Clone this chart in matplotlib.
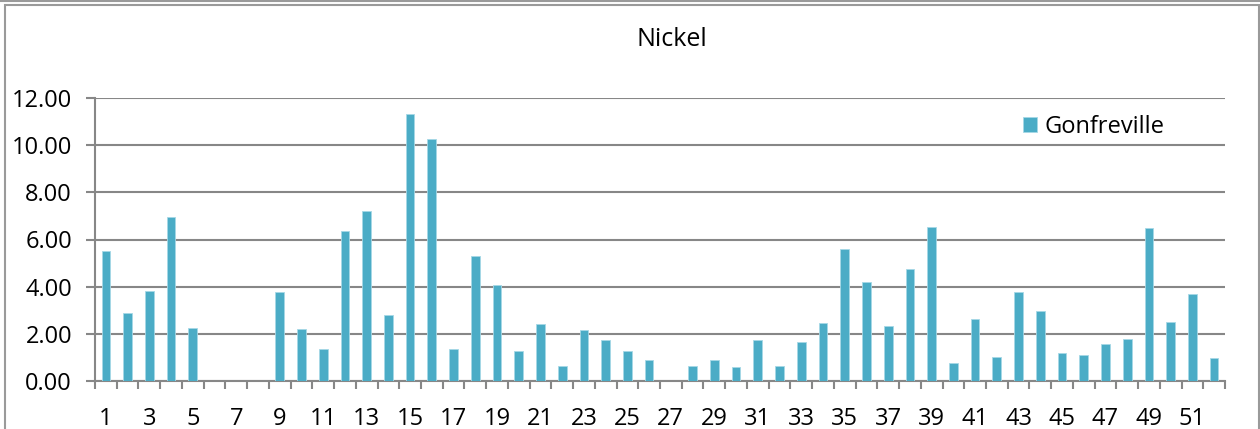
import matplotlib.pyplot as plt
import matplotlib.patches as patches
from matplotlib.ticker import FixedLocator, FormatStrFormatter

weeks = list(range(1, 53))
gonfreville = [
    5.51, 2.88, 3.82, 6.95, 2.25, 0, 0, 0, 3.77, 2.20,
    1.34, 6.36, 7.19, 2.80, 11.32, 10.25, 1.36, 5.29, 4.06, 1.27,
    2.42, 0.64, 2.16, 1.72, 1.29, 0.90, 0, 0.62, 0.90, 0.59,
    1.72, 0.64, 1.65, 2.45, 5.58, 4.18, 2.33, 4.75, 6.53, 0.75,
    2.63, 1.02, 3.76, 2.98, 1.17, 1.09, 1.58, 1.78, 6.47, 2.52,
    3.67, 0.96,
]
y_ticks = [0, 2, 4, 6, 8, 10, 12]

plt.rcParams["font.family"] = ["Open Sans", "DejaVu Sans"]
grey = "#878787"
bar_color = "#4BACC6"
fsize = 17

fig = plt.figure(figsize=(12.6, 4.29), dpi=100)
ax = fig.add_axes([95 / 1260, 1 - 381 / 429, 1130 / 1260, 283 / 429])

# chart border (Excel style)
fig.patches.append(patches.Rectangle((5 / 1260, -0.05), 1254 / 1260, 1 - 5 / 429 + 0.05,
                                     transform=fig.transFigure, fill=False,
                                     edgecolor="#9a9a9a", linewidth=1.5))
fig.add_artist(plt.Line2D([0, 1], [1 - 1 / 429, 1 - 1 / 429], transform=fig.transFigure,
                          color="#9a9a9a", linewidth=1.5))

pos = [w - 1 for w in weeks]
ax.bar(pos, gonfreville, width=0.4, color=bar_color, edgecolor="#a6d8e6",
       linewidth=0.6, label="Gonfreville", zorder=3)

ax.set_xlim(-0.5, 51.5)
ax.set_ylim(0, 12)
ax.yaxis.set_major_locator(FixedLocator(y_ticks))
ax.yaxis.set_major_formatter(FormatStrFormatter("%.2f"))
ax.grid(axis="y", color=grey, linewidth=1.5, zorder=0)

# category boundaries as major ticks, odd labels as minor ticks
ax.xaxis.set_major_locator(FixedLocator([i - 0.5 for i in range(53)]))
ax.xaxis.set_major_formatter(plt.NullFormatter())
ax.xaxis.set_minor_locator(FixedLocator([p for p in pos if p % 2 == 0]))
ax.set_xticklabels([str(w) for w in weeks if w % 2 == 1], minor=True)
ax.tick_params(axis="x", which="major", length=6, width=1.5, color=grey, direction="out")
ax.tick_params(axis="x", which="minor", length=0, pad=19, labelsize=fsize)
ax.tick_params(axis="y", length=6.5, width=1.5, color=grey, pad=10, labelsize=fsize)

for side in ["top", "right"]:
    ax.spines[side].set_visible(False)
for side in ["left", "bottom"]:
    ax.spines[side].set_color(grey)
    ax.spines[side].set_linewidth(1.5)

fig.text(672 / 1260, 1 - 40 / 429, "Nickel", ha="center", va="center", fontsize=18)

ax.legend(loc="upper left", bbox_to_anchor=(0.813, 0.975), frameon=False, fontsize=fsize,
          handlelength=0.6, handleheight=0.6, handletextpad=0.3, borderaxespad=0)

fig.savefig("out.png", dpi=100)
